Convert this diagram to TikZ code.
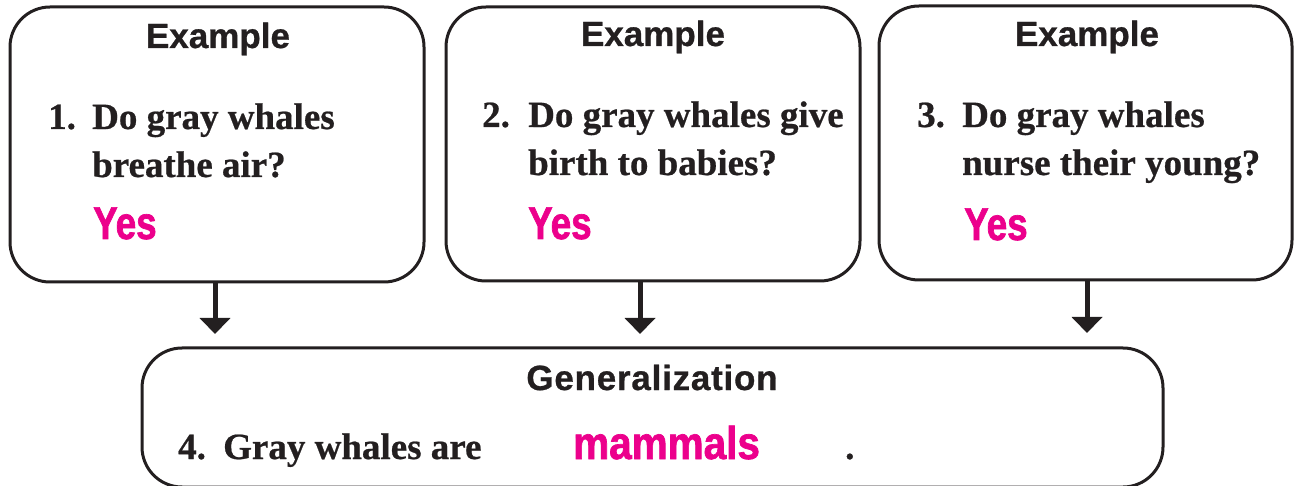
\documentclass[tikz,border=0pt]{standalone}
\usepackage{fontspec}
\setmainfont{Liberation Serif}[FakeBold=0.6]
\newfontfamily\helv{Liberation Sans}[FakeBold=0.8]
\newfontfamily\helvsp{Liberation Sans}[FakeBold=0.8,LetterSpace=2.2]
\newfontfamily\condY{Liberation Sans}[FakeStretch=0.8,FakeBold=1.5]
\newfontfamily\condM{Liberation Sans}[FakeStretch=0.88,FakeBold=1.5]
\usetikzlibrary{arrows.meta}
\definecolor{ink}{HTML}{231F20}
\definecolor{hotpink}{HTML}{EC008C}
\tikzset{
  roundbox/.style={draw=ink, line width=3pt, rounded corners=40pt, inner sep=0pt, fill=white},
  title/.style={inner sep=0pt, anchor=base, text=ink, font=\helv\bfseries\fontsize{35}{40}\selectfont},
  qtext/.style={inner sep=0pt, anchor=base west, text=ink, font=\bfseries\fontsize{37}{44}\selectfont},
  ans/.style={inner sep=0pt, anchor=base west, text=hotpink, font=\condY\bfseries\fontsize{46}{50}\selectfont},
  ansm/.style={inner sep=0pt, anchor=base west, text=hotpink, font=\condM\bfseries\fontsize{46}{50}\selectfont},
  arr/.style={draw=ink, line width=5pt, -{Triangle[width=30pt,length=16pt]}}
}
\begin{document}
\begin{tikzpicture}[x=1pt,y=-1pt]
\useasboundingbox (0,0) rectangle (1296,486);
% boxes
\node[roundbox, minimum width=414pt, minimum height=275pt] (b1) at (217,144.5) {};
\node[roundbox, minimum width=414pt, minimum height=274pt] (b2) at (653,144) {};
\node[roundbox, minimum width=413pt, minimum height=274pt] (b3) at (1085.5,143) {};
\node[roundbox, minimum width=1021pt, minimum height=139pt] (g) at (652.5,417.5) {};
% box 1
\node[title] (e1) at (218,48) {Example};
\node[qtext] (n1) at (48,129) {1.};
\node[qtext] (q1a) at (92,129) {Do gray whales};
\node[qtext] (q1b) at (92,177) {breathe air?};
\node[ans] (y1) at (93,239) {Yes};
% box 2
\node[title] (e2) at (653,46) {Example};
\node[qtext] (n2) at (482,127) {2.};
\node[qtext] (q2a) at (528,127) {Do gray whales give};
\node[qtext] (q2b) at (528,175) {birth to babies?};
\node[ans] (y2) at (528,239) {Yes};
% box 3
\node[title] (e3) at (1087,46) {Example};
\node[qtext] (n3) at (917,127) {3.};
\node[qtext] (q3a) at (962,127) {Do gray whales};
\node[qtext] (q3b) at (962,175) {nurse their young?};
\node[ans] (y3) at (964,240) {Yes};
% generalization
\node[title, font=\helvsp\bfseries\fontsize{35}{40}\selectfont] (gt) at (652,390) {Generalization};
\node[qtext] (n4) at (178,459) {4.};
\node[qtext] (g4) at (223,459) {Gray whales are};
\node[ansm] (mm) at (573,459) {mammals};
\node[qtext] (dot) at (845,459) {.};
% arrows
\coordinate (t1) at (215,334);
\coordinate (t2) at (640,334);
\coordinate (t3) at (1087,333);
\draw[arr] (b1.south -| t1) -- (t1);
\draw[arr] (b2.south -| t2) -- (t2);
\draw[arr] (b3.south -| t3) -- (t3);
\end{tikzpicture}
\end{document}
